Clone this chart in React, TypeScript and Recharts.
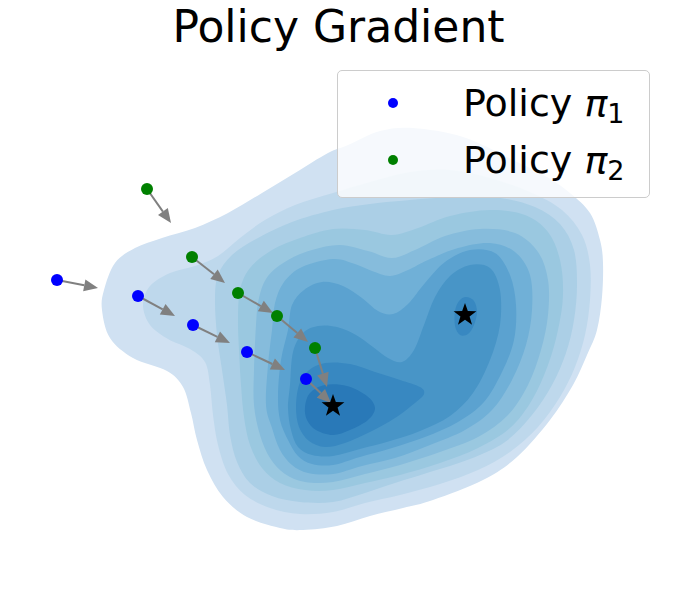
import React from 'react'
import { ScatterChart, Scatter, XAxis, YAxis } from 'recharts'

// density contours, outermost (lightest) first; each is a closed outline [x, y]
const level1 = [
  [-2.38, 0.0], [-2.36, 0.2], [-2.25, 0.47], [-2.05, 0.62], [-1.78, 0.72], [-1.45, 0.82],
  [-1.12, 0.97], [-0.78, 1.17], [-0.45, 1.37], [-0.12, 1.57], [0.08, 1.65], [0.4, 1.79],
  [0.73, 1.82], [1.23, 1.73], [1.73, 1.5], [2.07, 1.33], [2.3, 1.17], [2.5, 0.97],
  [2.6, 0.7], [2.63, 0.47], [2.62, 0.13], [2.57, -0.2], [2.47, -0.45], [2.33, -0.75],
  [2.1, -1.1], [1.77, -1.47], [1.43, -1.7], [0.93, -1.9], [0.63, -1.98], [0.3, -2.06],
  [-0.03, -2.16], [-0.37, -2.2], [-0.6, -2.18], [-0.93, -2.07], [-1.17, -1.87], [-1.33, -1.6],
  [-1.43, -1.3], [-1.49, -1.03], [-1.57, -0.77], [-1.73, -0.61], [-2.07, -0.48], [-2.3, -0.28],
]
const level2 = [
  [-1.97, 0.05], [-1.9, 0.24], [-1.7, 0.37], [-1.45, 0.44], [-1.22, 0.54], [-1.0, 0.72],
  [-0.75, 0.9], [-0.45, 1.05], [-0.07, 1.17], [0.3, 1.28], [0.7, 1.38], [1.1, 1.4],
  [1.5, 1.32], [1.9, 1.18], [2.22, 1.0], [2.42, 0.75], [2.5, 0.45], [2.5, 0.1],
  [2.45, -0.25], [2.35, -0.57], [2.2, -0.87], [1.98, -1.17], [1.7, -1.42], [1.38, -1.6],
  [1.0, -1.74], [0.6, -1.85], [0.25, -1.93], [-0.07, -2.02], [-0.4, -2.04], [-0.7, -1.98],
  [-0.95, -1.85], [-1.12, -1.64], [-1.22, -1.35], [-1.27, -1.05], [-1.3, -0.75], [-1.35, -0.52],
  [-1.5, -0.39], [-1.72, -0.29], [-1.9, -0.15],
]
const level3 = [
  [-1.25, 0.1], [-1.22, 0.35], [-1.08, 0.55], [-0.82, 0.72], [-0.48, 0.88], [-0.07, 1.0],
  [0.3, 1.06], [0.7, 1.1], [1.15, 1.13], [1.6, 1.12], [1.95, 1.03], [2.2, 0.86],
  [2.34, 0.6], [2.37, 0.25], [2.34, -0.1], [2.26, -0.43], [2.12, -0.75], [1.92, -1.05],
  [1.65, -1.32], [1.3, -1.49], [0.9, -1.62], [0.55, -1.73], [0.25, -1.83], [-0.07, -1.92],
  [-0.4, -1.92], [-0.68, -1.86], [-0.9, -1.73], [-1.03, -1.52], [-1.1, -1.25], [-1.13, -0.95],
  [-1.18, -0.6], [-1.23, -0.25],
]
const level4 = [
  [-1.02, -0.1], [-1.0, 0.2], [-0.9, 0.42], [-0.68, 0.6], [-0.4, 0.72], [-0.07, 0.81],
  [0.25, 0.8], [0.52, 0.75], [0.78, 0.82], [1.1, 0.94], [1.5, 1.0], [1.85, 0.95],
  [2.08, 0.78], [2.2, 0.5], [2.23, 0.15], [2.18, -0.2], [2.08, -0.55], [1.92, -0.9],
  [1.7, -1.18], [1.38, -1.38], [1.0, -1.53], [0.6, -1.65], [0.25, -1.73], [-0.07, -1.8],
  [-0.35, -1.8], [-0.6, -1.73], [-0.78, -1.58], [-0.9, -1.35], [-0.96, -1.07], [-0.99, -0.75],
  [-1.01, -0.4],
]
const level5 = [
  [-0.84, -0.15], [-0.81, 0.12], [-0.72, 0.34], [-0.52, 0.5], [-0.28, 0.6], [0.0, 0.65],
  [0.28, 0.59], [0.52, 0.52], [0.75, 0.6], [1.05, 0.74], [1.4, 0.81], [1.75, 0.77],
  [1.98, 0.58], [2.08, 0.3], [2.08, -0.05], [2.01, -0.4], [1.88, -0.75], [1.68, -1.05],
  [1.38, -1.27], [1.0, -1.42], [0.6, -1.55], [0.25, -1.64], [-0.07, -1.72], [-0.35, -1.72],
  [-0.55, -1.64], [-0.7, -1.48], [-0.8, -1.25], [-0.86, -0.95], [-0.86, -0.6],
]
const level6 = [
  [-0.68, -0.2], [-0.65, 0.07], [-0.56, 0.28], [-0.38, 0.43], [-0.07, 0.51], [0.15, 0.46],
  [0.32, 0.39], [0.5, 0.34], [0.68, 0.4], [0.88, 0.5], [1.18, 0.62], [1.5, 0.67],
  [1.75, 0.58], [1.9, 0.35], [1.92, 0.0], [1.86, -0.35], [1.72, -0.7], [1.52, -1.0],
  [1.25, -1.2], [0.9, -1.35], [0.55, -1.48], [0.22, -1.56], [-0.07, -1.64], [-0.32, -1.63],
  [-0.48, -1.55], [-0.6, -1.4], [-0.68, -1.18], [-0.74, -0.95], [-0.72, -0.55],
]
const level7 = [
  [-0.52, -0.2], [-0.48, 0.05], [-0.36, 0.2], [-0.18, 0.28], [0.03, 0.24], [0.22, 0.12],
  [0.38, -0.01], [0.53, -0.04], [0.68, 0.06], [0.85, 0.27], [1.05, 0.48], [1.3, 0.6],
  [1.55, 0.57], [1.7, 0.35], [1.76, 0.05], [1.74, -0.3], [1.62, -0.62], [1.44, -0.92],
  [1.18, -1.12], [0.85, -1.27], [0.52, -1.38], [0.2, -1.47], [-0.07, -1.55], [-0.28, -1.54],
  [-0.42, -1.46], [-0.52, -1.3], [-0.6, -1.1], [-0.62, -0.85], [-0.59, -0.5],
]
const level8 = [
  [-0.5, -0.75], [-0.47, -0.42], [-0.37, -0.23], [-0.22, -0.16], [-0.03, -0.17], [0.16, -0.25],
  [0.33, -0.37], [0.48, -0.48], [0.62, -0.52], [0.74, -0.4], [0.84, -0.15], [0.95, 0.13],
  [1.1, 0.34], [1.3, 0.45], [1.5, 0.42], [1.6, 0.2], [1.6, -0.15], [1.5, -0.5],
  [1.33, -0.83], [1.1, -1.06], [0.8, -1.21], [0.5, -1.31], [0.2, -1.39], [-0.07, -1.46],
  [-0.28, -1.45], [-0.42, -1.37], [-0.49, -1.2], [-0.52, -0.98],
]
const level9Left = [
  [-0.44, -0.97], [-0.41, -0.75], [-0.32, -0.61], [-0.15, -0.53], [0.1, -0.54], [0.35, -0.62],
  [0.6, -0.7], [0.8, -0.77], [0.84, -0.84], [0.75, -0.93], [0.55, -1.08], [0.3, -1.22],
  [0.05, -1.33], [-0.15, -1.37], [-0.31, -1.31], [-0.41, -1.17],
]
const level9Right = [
  [1.26, 0.13], [1.34, 0.09], [1.37, -0.02], [1.34, -0.15], [1.28, -0.24], [1.2, -0.25],
  [1.15, -0.16], [1.15, -0.01], [1.19, 0.09],
]
const level10 = [
  [-0.35, -0.97], [-0.3, -0.83], [-0.15, -0.75], [0.07, -0.76], [0.27, -0.86], [0.35, -0.98],
  [0.28, -1.1], [0.1, -1.2], [-0.07, -1.25], [-0.24, -1.2], [-0.33, -1.1],
]

const contours = [
  { name: 'level1', points: level1, color: '#d0e1f2' },
  { name: 'level2', points: level2, color: '#bed8ec' },
  { name: 'level3', points: level3, color: '#abcfe6' },
  { name: 'level4', points: level4, color: '#9ac8e0' },
  { name: 'level5', points: level5, color: '#86bcdc' },
  { name: 'level6', points: level6, color: '#70b0d7' },
  { name: 'level7', points: level7, color: '#5ba2d0' },
  { name: 'level8', points: level8, color: '#4895c7' },
  { name: 'level9a', points: level9Left, color: '#3888c1' },
  { name: 'level9b', points: level9Right, color: '#3888c1' },
  { name: 'level10', points: level10, color: '#2979b8' },
]

// policy iterates
const policy1 = [[-2.83, 0.3], [-2.02, 0.14], [-1.47, -0.15], [-0.93, -0.42], [-0.34, -0.69]]
const policy2 = [[-1.93, 1.21], [-1.48, 0.53], [-1.02, 0.17], [-0.63, -0.06], [-0.25, -0.38]]
// arrow tips, one per iterate
const policy1Tips = [[-2.42, 0.22], [-1.65, -0.06], [-1.1, -0.33], [-0.55, -0.6], [-0.09, -0.93]]
const policy2Tips = [[-1.69, 0.87], [-1.15, 0.27], [-0.67, -0.03], [-0.32, -0.32], [-0.13, -0.77]]
const optima = [[-0.07, -0.96], [1.25, -0.05]]

const toXY = (arr: number[][]) => arr.map(([x, y]) => ({ x, y }))

type Pt = { x: number; y: number }

function closedPath(pts: Pt[]) {
  const n = pts.length
  let d = `M${pts[0].x},${pts[0].y}`
  for (let i = 0; i < n; i++) {
    const p0 = pts[(i - 1 + n) % n]
    const p1 = pts[i]
    const p2 = pts[(i + 1) % n]
    const p3 = pts[(i + 2) % n]
    const c1x = p1.x + (p2.x - p0.x) / 6
    const c1y = p1.y + (p2.y - p0.y) / 6
    const c2x = p2.x - (p3.x - p1.x) / 6
    const c2y = p2.y - (p3.y - p1.y) / 6
    d += ` C${c1x},${c1y} ${c2x},${c2y} ${p2.x},${p2.y}`
  }
  return d + 'Z'
}

function Arrow({ points }: { points: Pt[] }) {
  if (!points || points.length < 2) return <g />
  const [a, b] = points
  const dx = b.x - a.x
  const dy = b.y - a.y
  const len = Math.hypot(dx, dy)
  const ux = dx / len
  const uy = dy / len
  const head = 14
  const half = 6
  const bx = b.x - ux * head
  const by = b.y - uy * head
  return (
    <g>
      <line x1={a.x} y1={a.y} x2={bx} y2={by} stroke="#808080" strokeWidth={2} />
      <polygon
        points={`${b.x},${b.y} ${bx - uy * half},${by + ux * half} ${bx + uy * half},${by - ux * half}`}
        fill="#808080"
      />
    </g>
  )
}

function Star(props: any) {
  const { cx, cy } = props
  const pts: string[] = []
  for (let i = 0; i < 10; i++) {
    const r = i % 2 === 0 ? 12 : 4.8
    const ang = -Math.PI / 2 + (i * Math.PI) / 5
    pts.push(`${cx + r * Math.cos(ang)},${cy + r * Math.sin(ang)}`)
  }
  return <polygon points={pts.join(' ')} fill="#000000" />
}

const hidden = () => <g />

const arrows = [
  ...policy1.map((p, i) => [p, policy1Tips[i]]),
  ...policy2.map((p, i) => [p, policy2Tips[i]]),
]

export default function App() {
  return (
    <div
      style={{
        position: 'absolute',
        left: 0,
        top: 0,
        width: 677,
        height: 593,
        background: '#ffffff',
        fontFamily: '"DejaVu Sans", sans-serif',
      }}
    >
      <ScatterChart width={677} height={593} margin={{ top: 60, right: 37, bottom: 33, left: 40 }}>
        <XAxis type="number" dataKey="x" domain={[-3, 3]} hide />
        <YAxis type="number" dataKey="y" domain={[-2.5, 2.5]} hide />
        {contours.map((c) => (
          <Scatter
            key={c.name}
            name={c.name}
            data={toXY(c.points)}
            shape={hidden}
            line={(p: any) => <path d={closedPath(p.points)} fill={c.color} stroke="none" />}
            lineType="joint"
            legendType="none"
            isAnimationActive={false}
          />
        ))}
        {arrows.map((seg, i) => (
          <Scatter
            key={`arrow-${i}`}
            data={toXY(seg)}
            shape={hidden}
            line={(p: any) => <Arrow points={p.points} />}
            lineType="joint"
            legendType="none"
            isAnimationActive={false}
          />
        ))}
        <Scatter
          name="Policy π1"
          data={toXY(policy1)}
          fill="#0000ff"
          shape={(p: any) => <circle cx={p.cx} cy={p.cy} r={6} fill="#0000ff" />}
          isAnimationActive={false}
        />
        <Scatter
          name="Policy π2"
          data={toXY(policy2)}
          fill="#008000"
          shape={(p: any) => <circle cx={p.cx} cy={p.cy} r={6} fill="#008000" />}
          isAnimationActive={false}
        />
        <Scatter name="optima" data={toXY(optima)} shape={Star} isAnimationActive={false} />
      </ScatterChart>

      <div
        style={{
          position: 'absolute',
          left: 0,
          top: 5,
          width: 677,
          textAlign: 'center',
          fontSize: 44,
          lineHeight: '44px',
          color: '#000',
        }}
      >
        Policy Gradient
      </div>

      <div
        style={{
          position: 'absolute',
          left: 337,
          top: 70,
          width: 313,
          height: 128,
          boxSizing: 'border-box',
          background: 'rgba(255,255,255,0.8)',
          border: '1px solid #cccccc',
          borderRadius: 5,
        }}
      >
        {[
          { color: '#0000ff', sub: '1', top: 13 },
          { color: '#008000', sub: '2', top: 70 },
        ].map((row) => (
          <div key={row.sub}>
            <div
              style={{
                position: 'absolute',
                left: 50,
                top: row.top + 14,
                width: 10,
                height: 10,
                borderRadius: '50%',
                background: row.color,
              }}
            />
            <div
              style={{
                position: 'absolute',
                left: 125,
                top: row.top,
                fontSize: 38,
                lineHeight: '38px',
                whiteSpace: 'nowrap',
                color: '#000',
              }}
            >
              Policy <span style={{ fontStyle: 'italic' }}>π</span>
              <span style={{ fontSize: 27, position: 'relative', top: 7 }}>{row.sub}</span>
            </div>
          </div>
        ))}
      </div>
    </div>
  )
}
